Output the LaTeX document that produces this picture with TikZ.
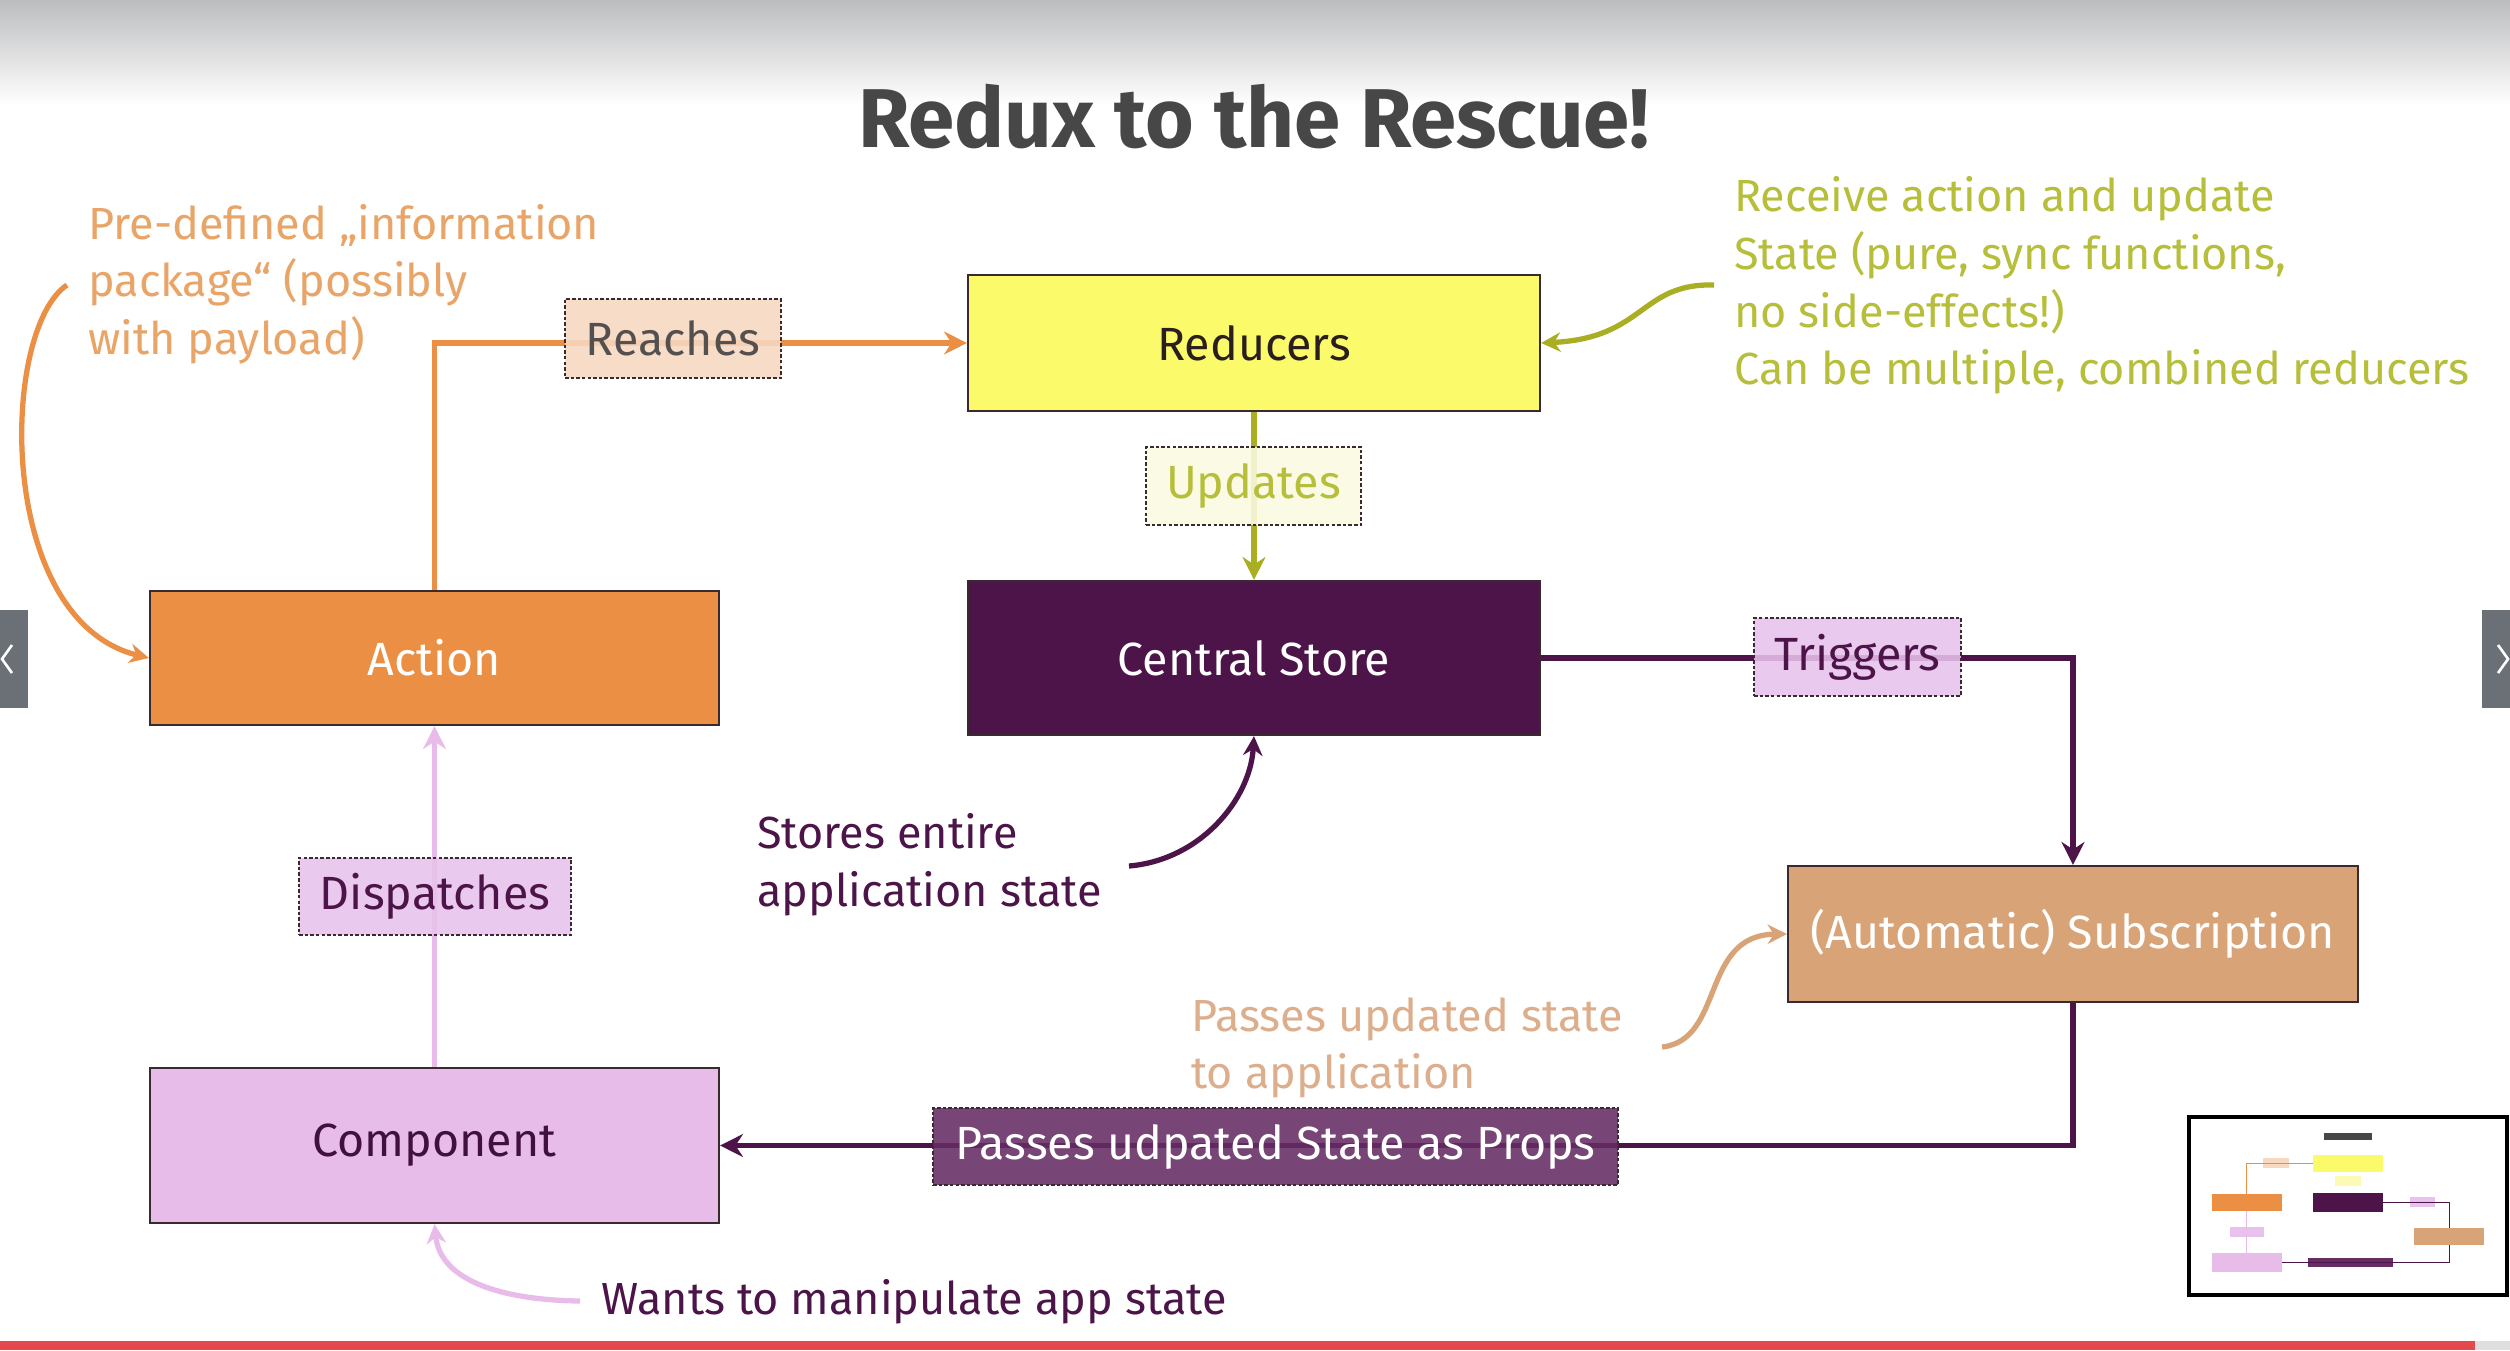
\documentclass[tikz,border=0pt]{standalone}
\usepackage{fontspec}
\setmainfont{Fira Sans}
\usetikzlibrary{arrows.meta}
\definecolor{actO}{HTML}{EB8F45}
\definecolor{redY}{HTML}{FAFA6A}
\definecolor{storeP}{HTML}{4C1448}
\definecolor{subT}{HTML}{D8A377}
\definecolor{compP}{HTML}{E8BCE9}
\definecolor{reachF}{HTML}{F7D8C0}
\definecolor{updF}{HTML}{FAFAE2}
\definecolor{trigF}{HTML}{E8C2EC}
\definecolor{propsF}{HTML}{652D64}
\definecolor{oliveL}{HTML}{A9AE22}
\definecolor{oliveT}{HTML}{B6BE3A}
\definecolor{orangeT}{HTML}{E9A467}
\definecolor{tanT}{HTML}{DDAE8C}
\definecolor{pinkL}{HTML}{E9BBEA}
\definecolor{titleG}{HTML}{474747}
\definecolor{borderD}{HTML}{3A2A30}
\definecolor{darkT}{HTML}{2A1E1E}
\definecolor{grayT}{HTML}{555050}
\definecolor{navG}{HTML}{6B6F76}
\definecolor{redbar}{HTML}{E5484D}
\definecolor{topG}{HTML}{BCBDBF}
\newcommand\fsA{\fontsize{25.6}{31}\selectfont}
\newcommand\fsB{\fontsize{26.5}{32}\selectfont}
\tikzset{
  box/.style={draw=borderD, line width=1.3pt, inner sep=0pt, font=\fsB},
  lbl/.style={draw=borderD, dash pattern=on 2pt off 1.2pt, line width=0.8pt, inner sep=0pt, font=\fsB, fill opacity=0.88, text opacity=1},
  conn/.style={line width=3.2pt, -{Stealth[length=13pt,width=13pt]}},
  curv/.style={line width=3pt, -{Stealth[length=11pt,width=11pt]}},
  ann/.style={anchor=base west, inner sep=0pt, font=\fsA},
}
\begin{document}
\begin{tikzpicture}[x=0.02cm, y=-0.02cm]
\useasboundingbox (0,0) rectangle (2510,1350);
\fill[white] (0,0) rectangle (2510,1350);
\shade[top color=topG, bottom color=white] (0,0) rectangle (2510,105);

% title
\node (title) [anchor=base, inner sep=0pt, text=titleG, font=\fontsize{47.5}{52}\selectfont\bfseries] at (1254,147) {Redux to the Rescue!};

% main boxes
\node (reducers) [box, fill=redY, text=darkT, minimum width=11.44cm, minimum height=2.72cm] at (1254,343) {Reducers};
\node (action) [box, fill=actO, text=white, minimum width=11.38cm, minimum height=2.68cm] at (434.5,658) {Action};
\node (store) [box, fill=storeP, text=white, minimum width=11.44cm, minimum height=3.08cm] at (1254,658) {Central Store};
\node (sub) [box, fill=subT, text=white, minimum width=11.4cm, minimum height=2.72cm] at (2073,934) {(Automatic) Subscription};
\node (comp) [box, fill=compP, text=storeP!85!black, minimum width=11.38cm, minimum height=3.1cm] at (434.5,1145.5) {Component};

% connectors
\draw[conn, draw=actO] (action.north) |- (reducers.west);
\draw[conn, draw=oliveL] (reducers.south) -- (store.north);
\draw[conn, draw=storeP] (store.east) -| (sub.north);
\draw[conn, draw=storeP] (sub.south) |- (comp.east);
\draw[conn, draw=pinkL] (comp.north) -- (action.south);

% connector labels
\node (reaches) [lbl, fill=reachF, text=grayT, minimum width=4.32cm, minimum height=1.58cm] at (673,338.5) {Reaches};
\node (updates) [lbl, fill=updF, text=oliveT, minimum width=4.3cm, minimum height=1.56cm] at (1253.5,486) {Updates};
\node (triggers) [lbl, fill=trigF, text=storeP, minimum width=4.14cm, minimum height=1.56cm] at (1857.5,657) {Triggers};
\node (dispatches) [lbl, fill=trigF, text=storeP, minimum width=5.44cm, minimum height=1.54cm] at (435,896.5) {Dispatches};
\node (props) [lbl, fill=propsF, text=white, minimum width=13.7cm, minimum height=1.54cm] at (1275.5,1146.5) {Passes udpated State as Props};

% annotations
\node (o1) [ann, text=orangeT] at (88,239) {Pre-defined „information};
\node (o2) [ann, text=orangeT] at (88,296) {package“ (possibly};
\node (o3) [ann, text=orangeT] at (88,354) {with payload)};
\node (g1) [ann, text=oliveT] at (1734,211) {Receive action and update};
\node (g2) [ann, text=oliveT] at (1734,269) {State (pure, sync functions,};
\node (g3) [ann, text=oliveT] at (1734,327) {no side-effects!)};
\node (g4) [ann, text=oliveT] at (1734,384) {Can be multiple, combined reducers};
\node (s1) [ann, text=storeP] at (757,848) {Stores entire};
\node (s2) [ann, text=storeP] at (757,906) {application state};
\node (t1) [ann, text=tanT] at (1191,1031) {Passes updated state};
\node (t2) [ann, text=tanT] at (1191,1088) {to application};
\node (w1) [ann, text=storeP] at (601,1314) {Wants to manipulate app state};

% annotation curves
\coordinate (co) at (67,285);
\coordinate (cg) at (1714,285);
\coordinate (cs) at (1129,866);
\coordinate (ct) at (1662,1047);
\coordinate (cw) at (580,1301);
\draw[curv, draw=actO] (co) .. controls (0,330) and (-5,620) .. (action.west);
\draw[curv, draw=oliveL] (cg) .. controls (1640,283) and (1645,338) .. (reducers.east);
\draw[curv, draw=storeP] (cs) .. controls (1200,860) and (1250,800) .. (store.south);
\draw[curv, draw=subT] (ct) .. controls (1725,1040) and (1700,935) .. (sub.west);
\draw[curv, draw=pinkL] (cw) .. controls (500,1300) and (440,1280) .. (comp.south);

% player UI: nav tabs, progress bar, thumbnail
\fill[navG] (0,610) rectangle (28,708);
\draw[white, line width=1.5pt] (12,645) -- (2,659) -- (12,673);
\fill[navG] (2482,610) rectangle (2510,708);
\draw[white, line width=1.5pt] (2498,645) -- (2508,659) -- (2498,673);
\fill[redbar] (0,1341) rectangle (2475,1350);
\fill[gray!25] (2475,1341) rectangle (2510,1350);

\fill[white] (2189,1117) rectangle (2507,1295);
\begin{scope}[shift={(2193,1121)}, scale=0.1235]
  \fill[titleG] (1060,100) rectangle (1450,150);
  \fill[redY] (968,275) rectangle (1540,411);
  \fill[actO] (150,591) rectangle (719,725);
  \fill[storeP] (968,581) rectangle (1540,735);
  \fill[subT] (1788,866) rectangle (2358,1002);
  \fill[compP] (150,1068) rectangle (719,1223);
  \fill[propsF] (933,1108) rectangle (1618,1185);
  \fill[reachF] (565,299) rectangle (781,378);
  \fill[updF!80!yellow] (1146,447) rectangle (1361,525);
  \fill[trigF] (1754,618) rectangle (1961,696);
  \fill[trigF] (299,858) rectangle (571,935);
  \draw[actO, line width=0.3pt] (434,591) |- (968,343);
  \draw[storeP, line width=0.3pt] (1540,657) -| (2073,866);
  \draw[storeP, line width=0.3pt] (2073,1002) |- (719,1146);
  \draw[pinkL, line width=0.3pt] (434,1068) -- (434,725);
\end{scope}
\draw[black, line width=2.2pt] (2189,1117) rectangle (2507,1295);
\end{tikzpicture}
\end{document}
